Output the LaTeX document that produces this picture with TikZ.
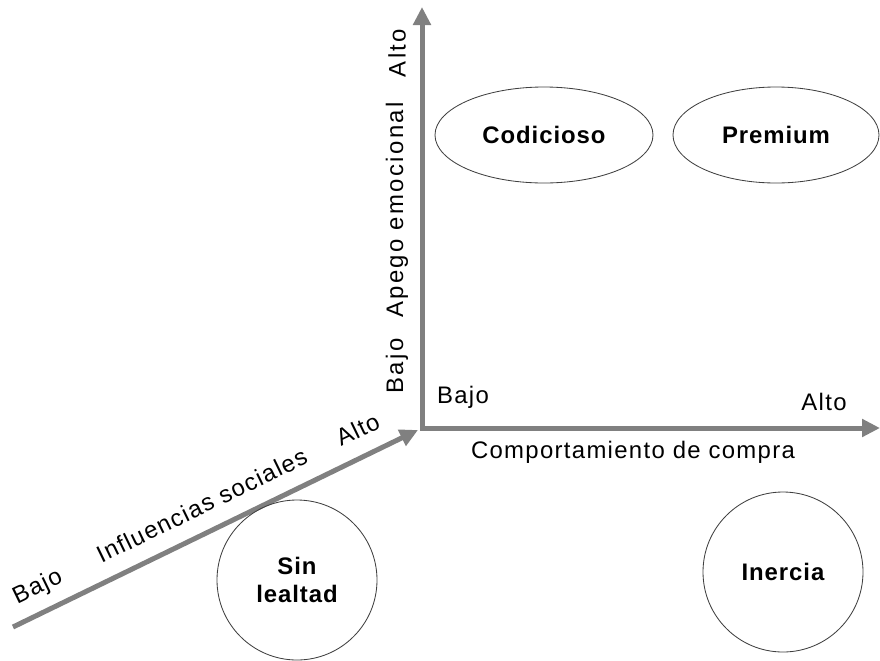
\documentclass[tikz,border=0pt]{standalone}
\usepackage{fontspec}
\setmainfont{Liberation Sans}
\newfontfamily\labelfont[LetterSpace=5.5]{Liberation Sans}
\newfontfamily\vlabelfont[LetterSpace=10]{Liberation Sans}
\newfontfamily\typefont[LetterSpace=4]{Liberation Sans}
\usetikzlibrary{positioning, arrows.meta, shapes.geometric}
\definecolor{axisgray}{RGB}{128,128,128}

\begin{document}
\begin{tikzpicture}[x=0.25mm,y=-0.25mm,
						axis/.style={draw=axisgray,line width=1.25mm,line cap=rect,-{Triangle[length=4.5mm,width=4.3mm]}},
						lbl/.style={font=\labelfont\fontsize{17}{20}\selectfont,inner sep=0pt},
						vlbl/.style={font=\vlabelfont\fontsize{17}{20}\selectfont,inner sep=0pt,rotate=90},
						tipo/.style={draw=black!75,line width=0.6pt,inner sep=0pt,align=center,font=\typefont\bfseries\fontsize{17}{20}\selectfont},
						tipoval/.style={tipo,ellipse,minimum height=24mm},
						tipocirc/.style={tipo,circle,minimum size=40mm}]
		\useasboundingbox (0,0) rectangle (880,660);

		% ejes
		\coordinate (o) at (422,428);
		\coordinate (ytop) at (422,7);
		\coordinate (xend) at (880,428);
		\coordinate (dstart) at (13,627);
		\coordinate (dend) at (418,430);

		\draw[axis] (o) -- (ytop);
		\draw[axis] (o) -- (xend);
		\draw[axis,line cap=butt] (dstart) --
			node[lbl,sloped,pos=0.088,anchor=base,yshift=4.6mm]	(bajod)	{Bajo}
			node[lbl,sloped,pos=0.495,anchor=base,yshift=4.6mm]	(infl)	{Influencias sociales}
			node[lbl,sloped,pos=0.88,anchor=base,yshift=4.6mm]	(altod)	{Alto}
			(dend);

		\node[vlbl]	(altoy)		at (397,53)		{Alto};
		\node[vlbl]	(apego)		at (397,210)	{Apego emocional};
		\node[vlbl]	(bajoy)		at (397,366)	{Bajo};

		\node[lbl]	(bajox)		at (463,397)	{Bajo};
		\node[lbl]	(altox)		at (824,402)	{Alto};
		\node[lbl]	(compra)	at (633,452)	{Comportamiento de compra};

		% tipos de lealtad
		\node[tipoval,minimum width=54.5mm]	(codicioso)	at (544,135)	{Codicioso};
		\node[tipoval,minimum width=51.5mm]	(premium)	at (776,135)	{Premium};
		\node[tipocirc]						(sinleal)	at (297,580)	{Sin\\lealtad};
		\node[tipocirc]						(inercia)	at (783,572)	{Inercia};
	\end{tikzpicture}
\end{document}
